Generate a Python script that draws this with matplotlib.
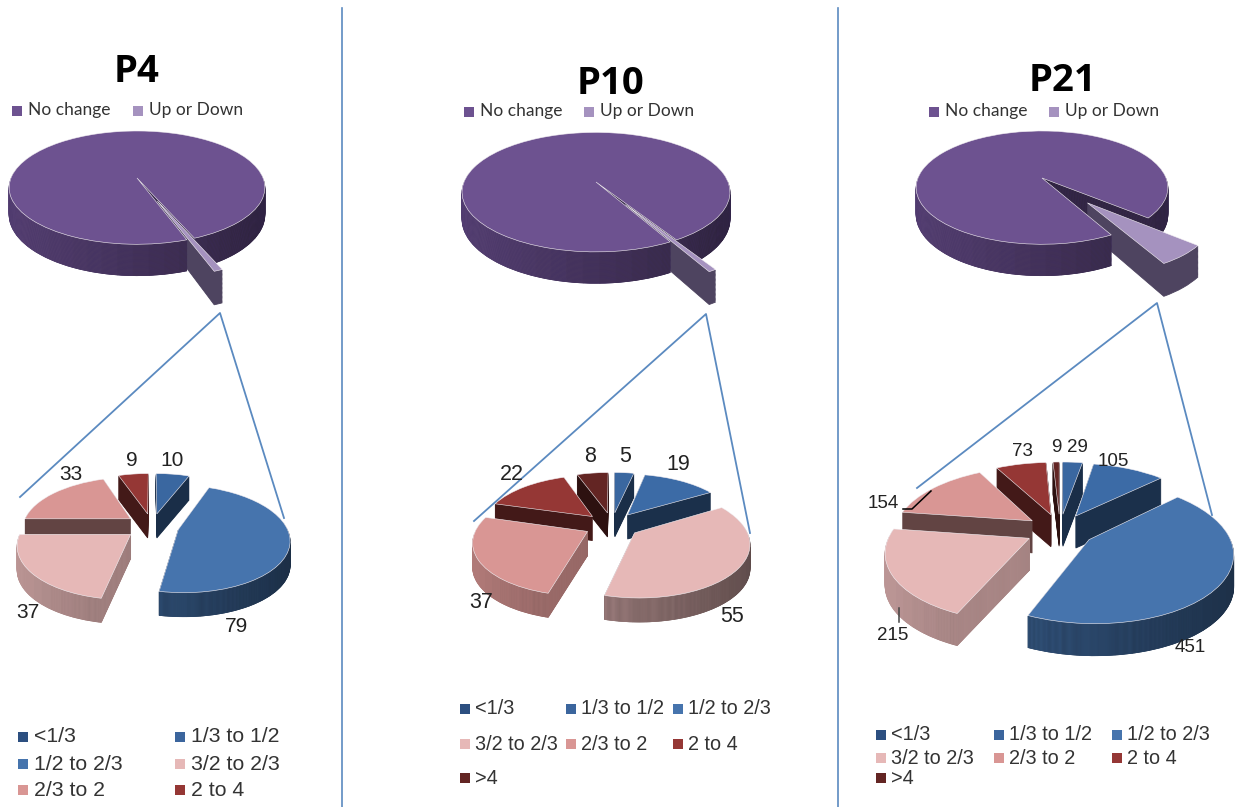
import numpy as np
import matplotlib
matplotlib.use('Agg')
import matplotlib.pyplot as plt
from matplotlib.colors import to_rgb
from matplotlib.patches import Wedge
from matplotlib.transforms import Affine2D, Transform

titles = ['P4', 'P10', 'P21']
top_labels = ['No change', 'Up or Down']
categories = ['<1/3', '1/3 to 1/2', '1/2 to 2/3', '3/2 to 2/3', '2/3 to 2', '2 to 4', '>4']

p4_values = [10, 0, 79, 37, 33, 9, 0]
p10_values = [5, 19, 0, 55, 37, 22, 8]
p21_values = [29, 105, 451, 215, 154, 73, 9]
no_change = [18500, 18500, 16500]

cat_colors = ['#3a67a0', '#3c6ba6', '#4674ad', '#e6b8b7', '#d99694', '#953735', '#632523']
legend_colors = ['#2c4f80', '#3b659d', '#4674ad', '#e6b8b7', '#d99694', '#953735', '#632523']
top_colors = ['#6d5290', '#a592bf']
top_walls = ['#3f2d62', '#4e4460']
line_color = '#5b8ac0'


class Tilt(Transform):
    # fake perspective, the far side of the pie gets smaller
    input_dims = 2
    output_dims = 2

    def __init__(self, drop=0.0, k=0.17):
        super().__init__()
        self.k = k
        self.drop = drop

    def transform_non_affine(self, values):
        values = np.asarray(values, dtype=float)
        s = 1 / (1 + self.k * values[:, 1])
        out = values * s[:, None]
        out[:, 1] -= self.drop * s
        return out


def shade(c, angle):
    f = 0.62 - 0.22 * np.cos(np.radians(angle))
    return tuple(x * f for x in to_rgb(c))


def wall_colors(vals, colors, start=90):
    walls = []
    total = sum(vals)
    a = start
    for v, c in zip(vals, colors):
        mid = a - 180 * v / total
        a -= 360 * v / total
        if np.sin(np.radians(mid)) > 0:
            walls.append(tuple(x * 0.45 for x in to_rgb(c)))
        else:
            walls.append(shade(c, mid))
    return walls


def pie3d(ax, vals, colors, walls, cx, cy, rx, ry, depth, explode, start,
          counterclock=False, radius=None, grow=False):
    for d in range(depth, -1, -1):
        face = colors if d == 0 else walls
        wedges, _ = ax.pie(vals, explode=explode, colors=face, startangle=start,
                           counterclock=counterclock, normalize=True)
        if grow:
            tr = Tilt(d / ry) + Affine2D().scale(rx, -ry).translate(cx, cy) + ax.transData
        else:
            tr = Tilt() + Affine2D().scale(rx, -ry).translate(cx, cy + d) + ax.transData
        for j, (w, fc) in enumerate(zip(wedges, face)):
            w.set_edgecolor('#f4f0f4' if d == 0 else fc)
            w.set_linewidth(0.4 if d == 0 else 0.6)
            if radius:
                w.set_radius(radius[j])
            w.set_transform(tr)
            # front wall gets darker to the right, drawn as thin strips
            if d > 0 and w.theta2 - w.theta1 > 30:
                for t in np.arange(w.theta1, w.theta2, 6):
                    t2 = min(t + 6, w.theta2)
                    if np.sin(np.radians((t + t2) / 2)) < 0:
                        col = shade(colors[j], (t + t2) / 2)
                        ax.add_patch(Wedge(w.center, w.r, t, t2, fc=col, ec=col, lw=0.6, transform=tr))


fig = plt.figure(figsize=(12.4, 8.07), dpi=100)
ax = fig.add_axes([0, 0, 1, 1])

# upper pies
top_x = [137, 596, 1042]
top_y = [178, 182, 178]
top_rx = [126, 132, 124]
top_ry = [55, 58, 55]
top_mid = [-69, -60, -51]
top_explode = [0.42, 0.42, 0.54]
top_radius = [0.98, 0.98, 0.92]
all_values = [p4_values, p10_values, p21_values]

for i in range(3):
    up = sum(all_values[i])
    vals = [no_change[i], up]
    angle = 360 * up / (up + no_change[i])
    pie3d(ax, vals, top_colors, top_walls, top_x[i], top_y[i], top_rx[i], top_ry[i], 26,
          [0, top_explode[i]], top_mid[i] + angle / 2, counterclock=True,
          radius=[1, top_radius[i]], grow=True)

# lower pies
low_x = [152, 612, 1060]
low_y = [526, 525, 530]
low_rx = [108, 110, 138]
low_ry = [51, 51, 66]
low_depth = [24, 24, 32]

for i in range(3):
    keep = [j for j, v in enumerate(all_values[i]) if v > 0]
    vals = [all_values[i][j] for j in keep]
    cols = [cat_colors[j] for j in keep]
    pie3d(ax, vals, cols, wall_colors(vals, cols), low_x[i], low_y[i], low_rx[i], low_ry[i],
          low_depth[i], [0.25] * len(vals), 90)

ax.set_aspect('auto')
ax.set_xlim(0, 1240)
ax.set_ylim(807, 0)
ax.axis('off')

# divider and connector lines
for x in [342, 838]:
    ax.plot([x, x], [8, 807], color=line_color, lw=1.2)
ax.plot([20, 220, 284], [497, 313, 518], color=line_color, lw=1.3)
ax.plot([474, 706, 750], [521, 314, 533], color=line_color, lw=1.3)
ax.plot([917, 1157, 1212], [488, 303, 515], color=line_color, lw=1.3)

# titles and upper legends
title_x = [137, 611, 1062]
title_y = [72, 84, 81]
leg_y = [111, 112, 112]
leg_x = [[17, 138], [469, 589], [934, 1054]]
for i in range(3):
    ax.text(title_x[i], title_y[i], titles[i], family='Open Sans', weight='bold', fontsize=27.5,
            ha='center', va='center', color='black')
    for x, lab, c in zip(leg_x[i], top_labels, top_colors):
        ax.scatter(x, leg_y[i], marker='s', s=42, color=c, linewidths=0)
        ax.text(x + 11, leg_y[i] - 1, lab, family='Lato', fontsize=12.5, va='center', color='#333333')

# value labels
label_size = [15, 15.5, 13.5]
p4_pos = [(172, 460), (237, 626), (28, 613), (71, 474), (132, 460)]
p10_pos = [(625, 457), (678, 464), (732, 617), (481, 603), (512, 474), (590, 457)]
p21_pos = [(1077, 448), (1113, 462), (1190, 647), (893, 635), (883, 503), (1022, 451), (1056, 448)]
for vals, pos, fs in zip(all_values, [p4_pos, p10_pos, p21_pos], label_size):
    shown = [v for v in vals if v > 0]
    for v, (x, y) in zip(shown, pos):
        ax.text(x, y, str(v), family='Liberation Sans', fontsize=fs, ha='center', va='center', color='#222222')
ax.plot([903, 912, 931], [509, 509, 491], color='black', lw=1.1)
ax.plot([899, 899], [608, 622], color='#444444', lw=1.1)

# lower legends
leg_cols = [[23, 180, 23, 180, 23, 180],
            [465, 571, 678, 465, 571, 678, 465],
            [881, 999, 1117, 881, 999, 1117, 881]]
leg_rows = [[737, 737, 764, 764, 790, 790],
            [709, 709, 709, 744, 744, 744, 778],
            [735, 735, 735, 758, 758, 758, 778]]
leg_size = [15.3, 14.3, 14.3]
leg_gap = [11, 10, 10]
for xs, ys, fs, gap in zip(leg_cols, leg_rows, leg_size, leg_gap):
    for j, (x, y) in enumerate(zip(xs, ys)):
        ax.scatter(x, y, marker='s', s=50, color=legend_colors[j], linewidths=0)
        ax.text(x + gap, y, categories[j], family='Liberation Sans', fontsize=fs, va='center', color='#333333')

fig.savefig('out.png', dpi=100, facecolor='white')
